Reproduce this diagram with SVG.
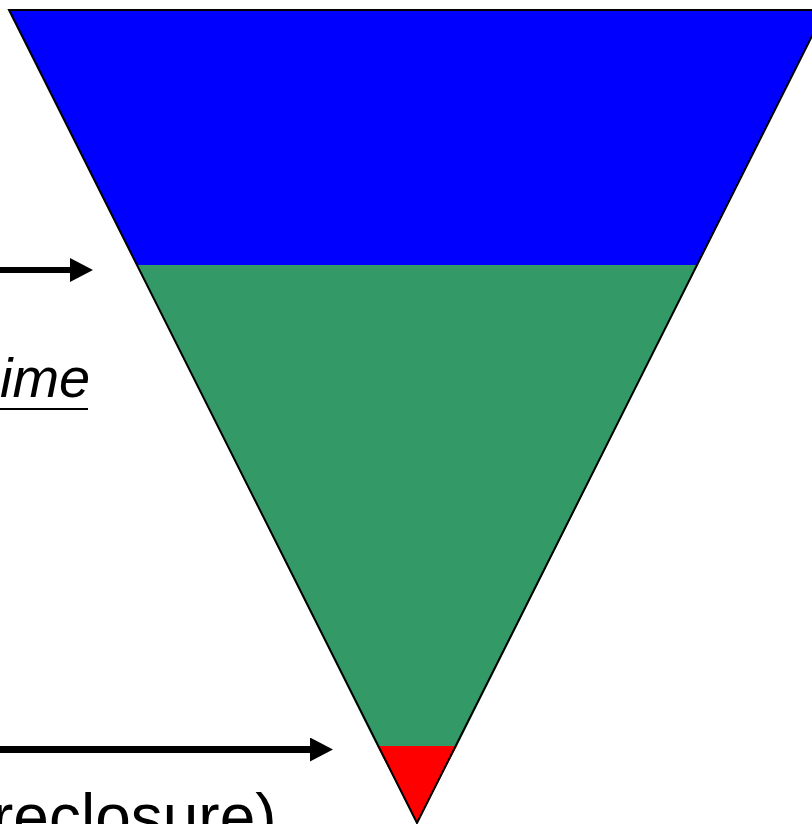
<svg xmlns="http://www.w3.org/2000/svg" width="812" height="824" viewBox="0 0 812 824">
<style>
.band{stroke:none}
.outline{fill:none;stroke:#000;stroke-width:2;stroke-linejoin:miter}
.lbl{font-family:"Liberation Sans",Arial,sans-serif;fill:#000}
.arrow{stroke:#000;fill:none}
</style>
<defs>
<marker id="ah" markerUnits="userSpaceOnUse" markerWidth="24" markerHeight="24" refX="0" refY="12" orient="auto" viewBox="0 0 24 24">
<path d="M0,0 L23,12 L0,24 Z" fill="#000"/>
</marker>
</defs>
<rect width="812" height="824" fill="#fff"/>
<g id="funnel">
<polygon class="band" fill="#0000ff" points="9,10 825,10 697,265 137,265"/>
<polygon class="band" fill="#339966" points="137,265 697,265 457,746 377,746"/>
<polygon class="band" fill="#ff0000" points="377,746 457,746 417,823"/>
<polygon class="outline" points="9,10 825,10 417,823"/>
</g>
<g id="connectors">
<line class="arrow" x1="0" y1="270" x2="70" y2="270" stroke-width="6" marker-end="url(#ah)"/>
<line class="arrow" x1="0" y1="749.5" x2="310" y2="749.5" stroke-width="7" marker-end="url(#ah)"/>
</g>
<g id="label-time">
<text class="lbl" x="0" y="397" font-size="56" font-style="italic">ime</text>
<line x1="0" y1="409" x2="88" y2="409" stroke="#000" stroke-width="2"/>
</g>
<g id="label-foreclosure">
<text class="lbl" x="-8" y="839" font-size="64">reclosure)</text>
</g>
</svg>
